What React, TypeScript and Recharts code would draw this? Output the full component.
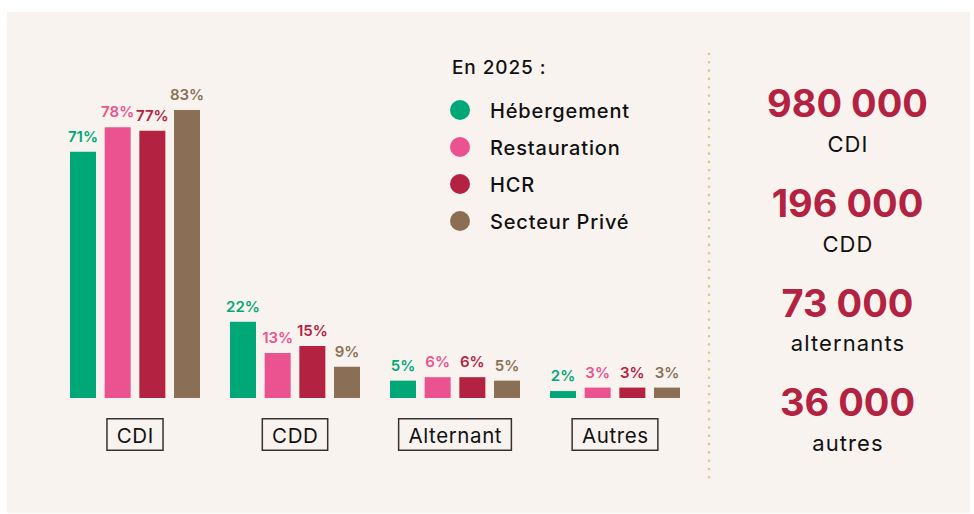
import React, { useLayoutEffect, useRef, useState } from 'react';
import { BarChart, Bar, XAxis, YAxis, LabelList } from 'recharts';

const categories = ['CDI', 'CDD', 'Alternant', 'Autres'];
const hebergement = [71, 22, 5, 2];
const restauration = [78, 13, 6, 3];
const hcr = [77, 15, 6, 3];
const secteurPrive = [83, 9, 5, 3];

const seriesNames = ['Hébergement', 'Restauration', 'HCR', 'Secteur Privé'];
const seriesKeys = ['hebergement', 'restauration', 'hcr', 'secteurPrive'];
const seriesColors = ['#00a878', '#ea538f', '#b32241', '#8a6f54'];

const totalsValues = ['980 000', '196 000', '73 000', '36 000'];
const totalsLabels = ['CDI', 'CDD', 'alternants', 'autres'];
const legendTitle = 'En 2025 :';

const data = categories.map((c, i) => ({
  name: c,
  hebergement: hebergement[i],
  restauration: restauration[i],
  hcr: hcr[i],
  secteurPrive: secteurPrive[i],
}));

const FONT = 'Inter, "Noto Sans", sans-serif';

function BoxTick(props: any) {
  const { x, y, payload } = props;
  const ref = useRef<SVGTextElement>(null);
  const [w, setW] = useState(payload.value.length * 11);
  useLayoutEffect(() => {
    if (ref.current) setW(ref.current.getComputedTextLength());
  }, [payload.value]);
  const bw = w + 19;
  return (
    <g>
      <rect x={x - bw / 2} y={y + 20.75} width={bw} height={31.5} fill="none" stroke="#333333" strokeWidth={1.5} />
      <text
        ref={ref}
        x={x + 0.3}
        y={y + 44.5}
        textAnchor="middle"
        fontFamily={FONT}
        fontSize={20.5}
        letterSpacing={0.6}
        fill="#111111"
      >
        {payload.value}
      </text>
    </g>
  );
}

export default function App() {
  return (
    <div style={{ position: 'absolute', left: 0, top: 0, width: 974, height: 514, fontFamily: FONT }}>
      <div style={{ position: 'absolute', left: 7, top: 12, width: 963, height: 501, background: '#f8f3ef' }} />
      <div style={{ position: 'absolute', left: 0, top: 0 }}>
        <BarChart
          width={974}
          height={514}
          data={data}
          margin={{ top: 51, right: 279, left: 55, bottom: 56 }}
          barSize={26}
          barGap={8.67}
        >
          <XAxis
            dataKey="name"
            axisLine={false}
            tickLine={false}
            tickSize={0}
            tickMargin={0}
            height={60}
            interval={0}
            tick={<BoxTick />}
          />
          <YAxis hide domain={[0, 100]} />
          {seriesKeys.map((k, i) => (
            <Bar key={k} dataKey={k} name={seriesNames[i]} fill={seriesColors[i]} isAnimationActive={false}>
              <LabelList
                dataKey={k}
                position="top"
                offset={10}
                fill={seriesColors[i]}
                fontSize={15}
                fontWeight={600}
                fontFamily={FONT}
                formatter={(v: any) => `${v}%`}
              />
            </Bar>
          ))}
        </BarChart>
      </div>
      <svg width={974} height={514} style={{ position: 'absolute', left: 0, top: 0, pointerEvents: 'none' }}>
        <text x={452} y={74} fontFamily={FONT} fontSize={19} fontWeight={500} letterSpacing={0.9} fill="#111111">
          {legendTitle}
        </text>
        {seriesNames.map((n, i) => (
          <g key={n}>
            <circle cx={460} cy={110 + i * 37} r={10} fill={seriesColors[i]} />
            <text x={490} y={118 + i * 37} fontFamily={FONT} fontSize={20} fontWeight={500} letterSpacing={0.85} fill="#111111">
              {n}
            </text>
          </g>
        ))}
        <line
          x1={709}
          y1={54}
          x2={709}
          y2={478}
          stroke="#e9c08c"
          strokeWidth={2.6}
          strokeLinecap="round"
          strokeDasharray="0 8.3"
        />
        {totalsValues.map((v, i) => (
          <g key={v}>
            <text x={847.5} y={117 + i * 99.8} textAnchor="middle" fontFamily={FONT} fontSize={38} fontWeight={700} fill="#b32241">
              {v}
            </text>
            <text
              x={848}
              y={152 + i * 99.6}
              textAnchor="middle"
              fontFamily={FONT}
              fontSize={22}
              letterSpacing={1.1}
              fill="#111111"
            >
              {totalsLabels[i]}
            </text>
          </g>
        ))}
      </svg>
    </div>
  );
}
